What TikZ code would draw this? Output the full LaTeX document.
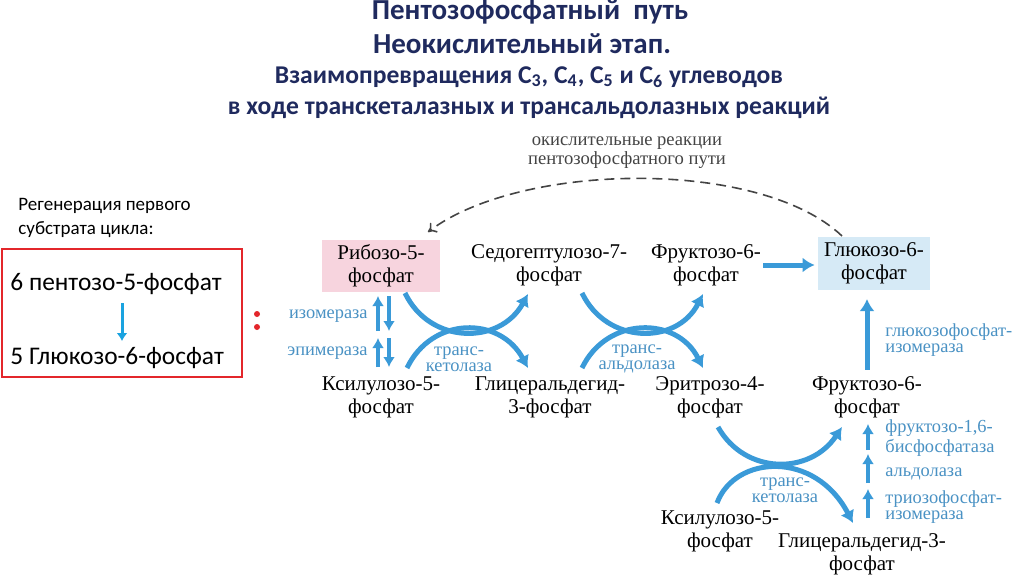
\documentclass[tikz,border=0pt]{standalone}
\usepackage{fontspec}
\setmainfont{Liberation Serif}
\newfontfamily\calibri{Carlito}
\usetikzlibrary{arrows.meta}
\definecolor{titleblue}{HTML}{1F2A5E}
\definecolor{arrowblue}{HTML}{3A9AD8}
\definecolor{enzblue}{HTML}{4A92C4}
\definecolor{ribpink}{HTML}{F7D4DE}
\definecolor{glcblue}{HTML}{D6EAF6}
\definecolor{boxred}{HTML}{E3262B}
\definecolor{arrowcyan}{HTML}{1AA3E0}
\definecolor{dashgray}{HTML}{444444}

\tikzset{
  compound/.style={align=center, inner sep=1pt, font=\fontsize{10.5}{11.5}\selectfont},
  enzyme/.style={align=left, text=enzblue, inner sep=0pt, font=\fontsize{9.2}{8}\selectfont},
  flow/.style={draw=arrowblue, line width=2.5pt, -{Latex[length=6pt,width=7.5pt]}},
  smallflow/.style={draw=arrowblue, line width=2pt, -{Latex[length=5pt,width=6pt]}},
  titletext/.style={text=titleblue, font=\calibri\bfseries\fontsize{14.5}{14.5}\selectfont},
  subtitle/.style={text=titleblue, font=\calibri\bfseries\fontsize{12.8}{12.8}\selectfont}
}

\begin{document}
\begin{tikzpicture}[x=0.5pt,y=-0.5pt]
  \useasboundingbox[fill=white] (0,0) rectangle (1024,574);

  % title
  \node[titletext] (t1) at (530,12) {Пентозофосфатный\ \ путь};
  \node[titletext] (t2) at (522,44) {Неокислительный этап.};
  \node[subtitle] (t3) at (529,77) {Взаимопревращения С\textsubscript{3}, С\textsubscript{4}, С\textsubscript{5} и С\textsubscript{6} углеводов};
  \node[subtitle] (t4) at (529,108) {в ходе транскеталазных и трансальдолазных реакций};

  % left part
  \node[anchor=west, align=left, inner sep=0pt, font=\calibri\fontsize{9.5}{12}\selectfont] (regen) at (18,218)
    {Регенерация первого\\субстрата цикла:};
  \node[draw=boxred, line width=1pt, minimum width=120pt, minimum height=64pt] (regbox) at (121.5,313) {};
  \node[anchor=west, inner sep=0pt, font=\calibri\fontsize{12.7}{12.7}\selectfont] (pent) at (10,284) {6 пентозо-5-фосфат};
  \node[anchor=west, inner sep=0pt, font=\calibri\fontsize{12.7}{12.7}\selectfont] (glc5) at (10,358) {5 Глюкозо-6-фосфат};
  \draw[arrowcyan, line width=1.5pt, -{Latex[length=4pt,width=5.5pt]}] (122,303) -- (122,341);
  \fill[boxred] (257,314) circle (3) (257,327) circle (3);

  % compounds
  \node[compound, fill=ribpink, minimum width=59pt, minimum height=26pt] (rib) at (381,266) {Рибозо-5-\\фосфат};
  \node[compound] (sedo) at (549,265) {Седогептулозо-7-\\фосфат};
  \node[compound] (fru1) at (706,265) {Фруктозо-6-\\фосфат};
  \node[compound, fill=glcblue, minimum width=56pt, minimum height=26.5pt] (glc) at (874,263.5) {Глюкозо-6-\\фосфат};
  \node[compound] (xyl1) at (381,397) {Ксилулозо-5-\\фосфат};
  \node[compound] (gap1) at (550,397) {Глицеральдегид-\\3-фосфат};
  \node[compound] (ery) at (710,397) {Эритрозо-4-\\фосфат};
  \node[compound] (fru2) at (867,397) {Фруктозо-6-\\фосфат};
  \node[compound] (xyl2) at (720,531) {Ксилулозо-5-\\фосфат};
  \node[compound] (gap2) at (862,554) {Глицеральдегид-3-\\фосфат};

  % oxidative branch
  \node[align=center, text=dashgray, font=\fontsize{9.3}{9.5}\selectfont] (oxlabel) at (627,153)
    {окислительные реакции\\пентозофосфатного пути};
  \coordinate (oxstart) at (842,236);
  \coordinate (oxend) at (428,232);
  \draw[dashgray, line width=0.8pt, dash pattern=on 5pt off 3pt, -{To[length=4pt,width=6pt]}]
    (oxstart) .. controls (760,158) and (520,162) .. (oxend);

  % isomerase / epimerase
  \draw[smallflow] (378,331) -- (378,296);
  \draw[smallflow] (389,296) -- (389,331);
  \draw[smallflow] (378,367) -- (378,338);
  \draw[smallflow] (389,338) -- (389,367);
  \node[enzyme, anchor=east] (isom) at (368,316) {изомераза};
  \node[enzyme, anchor=east] (epim) at (368,353) {эпимераза};

  % transketolase
  \coordinate (tka) at (405,293);
  \coordinate (tkb) at (528,294);
  \coordinate (tkc) at (407,368);
  \coordinate (tkd) at (528,368);
  \draw[flow] (tka) .. controls (430,345) and (500,345) .. (tkb);
  \draw[flow] (tkc) .. controls (432,316) and (500,316) .. (tkd);
  \node[enzyme, align=center] (tk1) at (459,359) {транс-\\кетолаза};

  % transaldolase
  \coordinate (taa) at (582,293);
  \coordinate (tab) at (703,294);
  \coordinate (tac) at (582,368);
  \coordinate (tad) at (703,368);
  \draw[flow] (taa) .. controls (607,345) and (677,345) .. (tab);
  \draw[flow] (tac) .. controls (607,316) and (677,316) .. (tad);
  \node[enzyme, align=center] (ta) at (637,359) {транс-\\альдолаза};

  % second transketolase
  \coordinate (tke) at (718,427);
  \coordinate (tkf) at (842,427);
  \coordinate (tkg) at (717,503);
  \coordinate (tkh) at (853,523);
  \draw[flow] (tke) .. controls (745,475) and (810,475) .. (tkf);
  \draw[flow] (tkg) .. controls (735,455) and (815,450) .. (tkh);
  \node[enzyme, align=center] (tk2) at (785,490) {транс-\\кетолаза};

  % towards glucose-6-phosphate
  \draw[flow] (fru1.east) -- ([xshift=-1.5pt]glc.west |- fru1.east);
  \draw[flow] (fru2.north -| 867,0) ++(0,-4) -- (867,299);
  \node[enzyme, anchor=west] (gpi) at (885,340) {глюкозофосфат-\\изомераза};

  \foreach \ya/\yb in {518/489, 483/454, 450/424}
    \draw[smallflow] (868,\ya) -- (868,\yb);
  \node[enzyme, anchor=west] (fbp) at (885,438) {фруктозо-1,6-\\бисфосфатаза};
  \node[enzyme, anchor=west] (ald) at (885,474) {альдолаза};
  \node[enzyme, anchor=west] (tpi) at (885,507) {триозофосфат-\\изомераза};
\end{tikzpicture}
\end{document}
